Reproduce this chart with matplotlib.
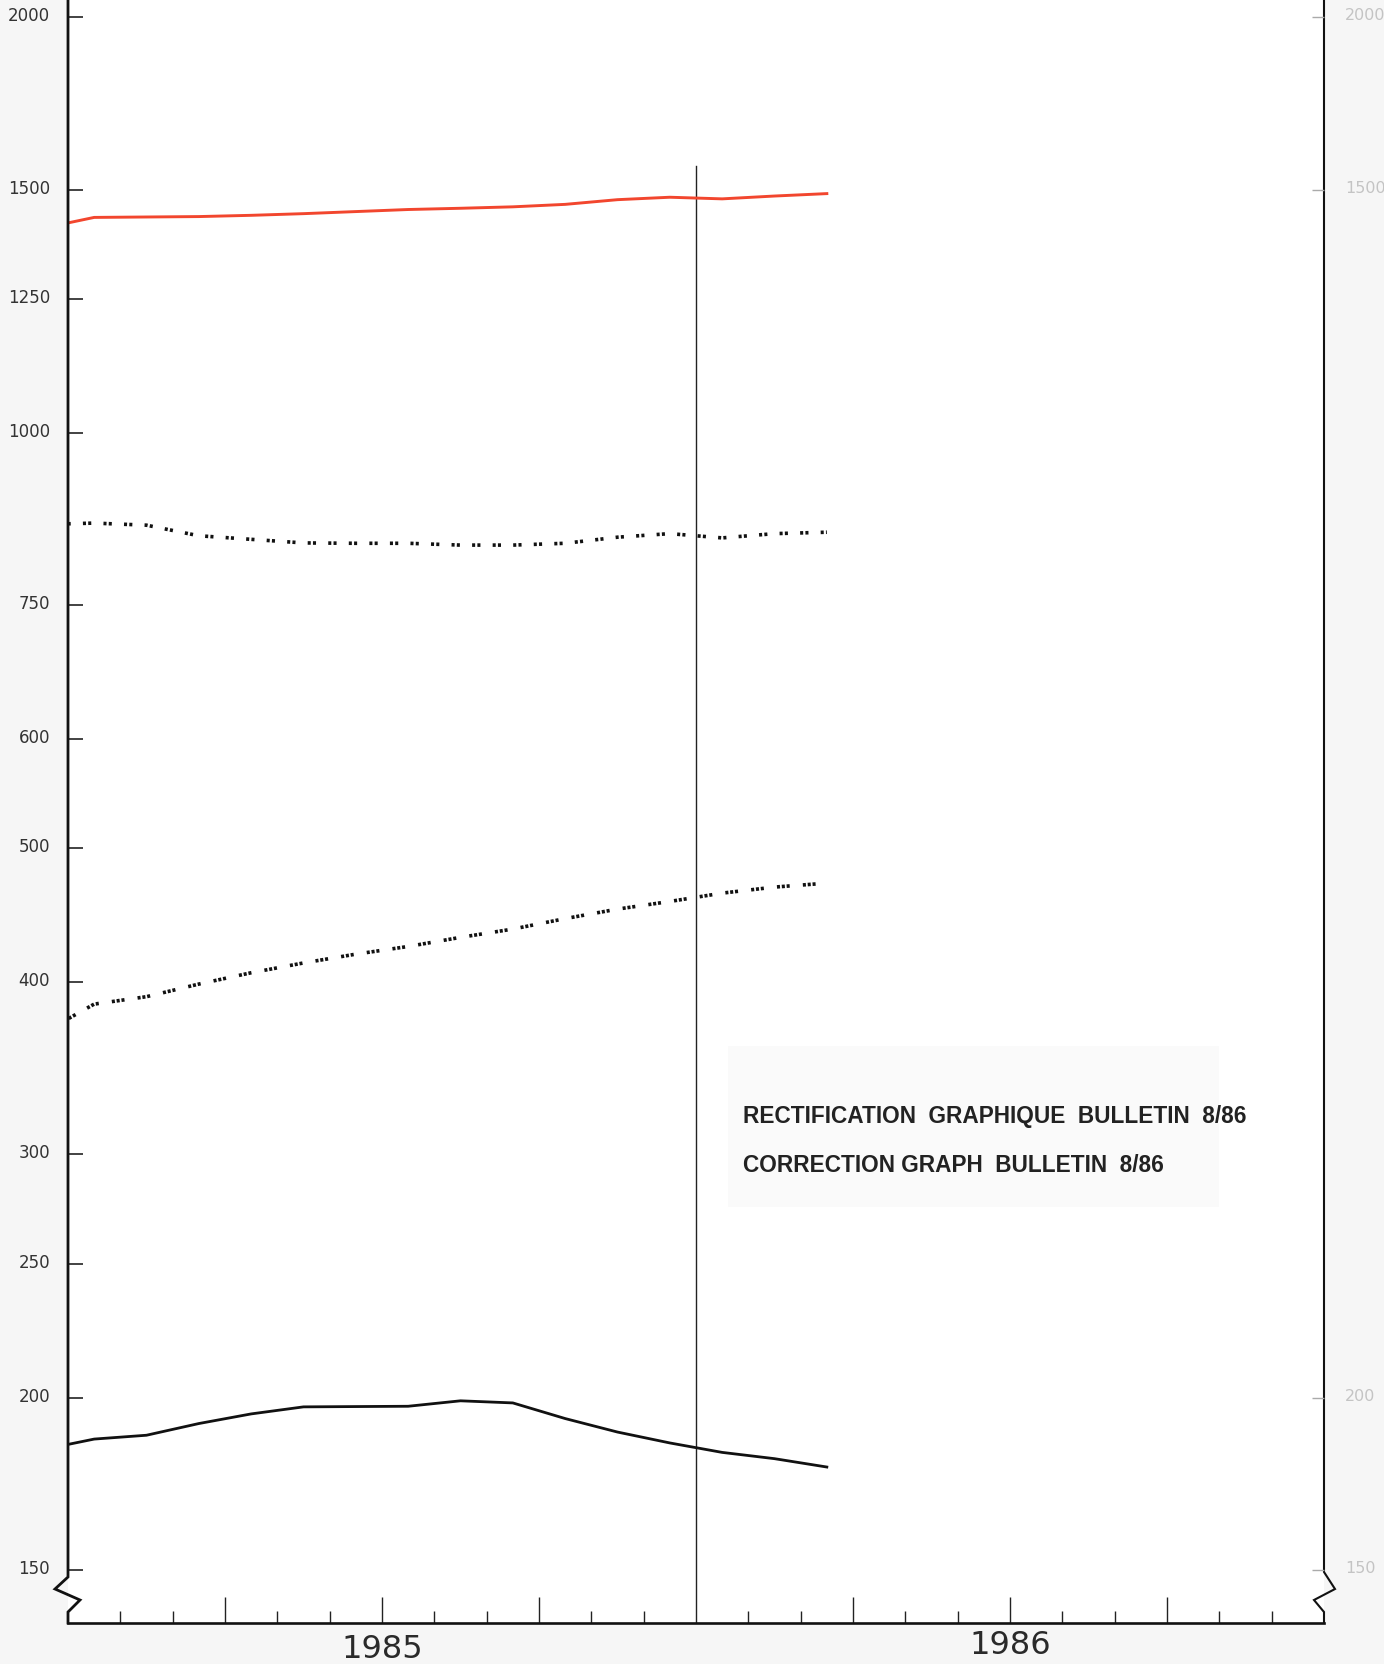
import matplotlib
matplotlib.use("Agg")
import matplotlib.pyplot as plt
import matplotlib.transforms as mtransforms
from matplotlib.patches import Rectangle
from matplotlib.ticker import FixedLocator, NullLocator, FixedFormatter

plt.rcParams['lines.scale_dashes'] = False
plt.rcParams['font.family'] = ['DejaVu Sans']

# ---- data (month index, 0 = start of Jan 1985; points at mid-month) ----
months = [-0.5, 0.5, 1.5, 2.5, 3.5, 4.5, 5.5, 6.5, 7.5, 8.5, 9.5, 10.5, 11.5, 12.5, 13.5, 14.5]
red_series = [1406, 1432, 1433, 1434, 1437, 1441, 1446, 1451, 1454, 1457.5, 1463.5, 1475, 1481, 1477, 1484, 1490]
upper_dotted = [858, 860, 857, 842, 837, 832, 831.5, 831.5, 829, 829, 831.5, 840, 845, 839, 845, 847]
lower_dotted = [367, 385.5, 390.3, 398.6, 406.2, 412.9, 419, 424.4, 430.9, 436.9, 444.6, 451.7, 457.5, 463.9, 468.6, 471.7]
black_series = [183.3, 186.6, 187.8, 191.5, 194.6, 196.9, 197.0, 197.1, 198.9, 198.2, 193.1, 188.8, 185.4, 182.5, 180.6, 178.1]

left_ticks = [150, 200, 250, 300, 400, 500, 600, 750, 1000, 1250, 1500, 2000]
right_ticks = [150, 200, 1500, 2000]
year_labels = ["1985", "1986"]
year_positions = [6, 18]
new_year = 12
note_lines = ["RECTIFICATION  GRAPHIQUE  BULLETIN  8/86",
              "CORRECTION GRAPH  BULLETIN  8/86"]

W, H = 1399, 1664
fig = plt.figure(figsize=(W / 100, H / 100), dpi=100, facecolor='#f6f6f6')
fig.patches.append(Rectangle((1384 / W, 0), 1 - 1384 / W, 1, transform=fig.transFigure,
                             facecolor='white', edgecolor='none', zorder=0))

ax_l, ax_b, ax_w, ax_h = 68 / W, 41 / H, 1256 / W, 1623 / H
ax = fig.add_axes([ax_l, ax_b, ax_w, ax_h])
ax.set_facecolor('white')
ax.set_yscale('log')
ax.set_xlim(0, 24)
ax.set_ylim(137.3, 2058)
for s in ax.spines.values():
    s.set_visible(False)

# y ticks (left)
ax.yaxis.set_major_locator(FixedLocator(left_ticks))
ax.yaxis.set_major_formatter(FixedFormatter([str(t) for t in left_ticks]))
ax.yaxis.set_minor_locator(NullLocator())
ax.tick_params(axis='y', which='major', direction='in', length=11, width=1.2,
               color='#222', labelsize=12, labelcolor='#333', pad=13)
off = mtransforms.ScaledTranslation(0, 3 / 100, fig.dpi_scale_trans)
for lab in ax.get_yticklabels():
    lab.set_transform(lab.get_transform() + off)

# x ticks (months, quarters longer)
ax.xaxis.set_major_locator(FixedLocator([3, 6, 9, 15, 18, 21]))
ax.xaxis.set_minor_locator(FixedLocator([m for m in range(1, 24) if m % 3 != 0]))
ax.tick_params(axis='x', which='major', direction='in', length=19, width=1.0,
               color='#222', labelbottom=False)
ax.tick_params(axis='x', which='minor', direction='in', length=8.5, width=1.0,
               color='#222', labelbottom=False)

# right axis (faint)
ax2 = ax.twinx()
ax2.set_yscale('log')
ax2.set_ylim(137.3, 2058)
for s in ax2.spines.values():
    s.set_visible(False)
ax2.yaxis.set_major_locator(FixedLocator(right_ticks))
ax2.yaxis.set_major_formatter(FixedFormatter([str(t) for t in right_ticks]))
ax2.yaxis.set_minor_locator(NullLocator())
ax2.tick_params(axis='y', which='major', direction='in', length=9, width=1.0,
                color='#aaaaaa', labelsize=11.5, labelcolor='#c4c4c4', pad=15)
for lab in ax2.get_yticklabels():
    lab.set_transform(lab.get_transform() + off)

# hand-drawn axis frame with break marks
def fx(px):
    return (px - 68) / 1256

def fy(py):
    return (1623 - py) / 1623

lx = [fx(68), fx(68), fx(55), fx(80), fx(68), fx(68)]
ly = [1.0, fy(1577), fy(1589), fy(1600), fy(1612), 0.0]
ax.plot(lx, ly, transform=ax.transAxes, color='#111', lw=2.0, clip_on=False,
        solid_joinstyle='miter', zorder=5)
rx = [1.0, 1.0, fx(1335), fx(1314), 1.0, 1.0]
ry = [1.0, fy(1572), fy(1589), fy(1600), fy(1612), 0.0]
ax.plot(rx, ry, transform=ax.transAxes, color='#111', lw=1.5, clip_on=False,
        solid_joinstyle='miter', zorder=5)
ax.plot([0, 1], [0, 0], transform=ax.transAxes, color='#111', lw=1.9,
        clip_on=False, zorder=5)

# vertical line at start of 1986
ax.axvline(new_year, ymin=0, ymax=0.898, color='#222', lw=1.0, zorder=3)

# series
ax.plot(months, red_series, color='#f2462e', lw=2.1, zorder=4)
ax.plot(months, upper_dotted, color='#111', lw=2.6,
        dashes=(2.2, 1.6, 2.2, 8.8), dash_capstyle='butt', zorder=4)
ax.plot(months, lower_dotted, color='#111', lw=2.6,
        dashes=(2.2, 1.3, 2.2, 1.3, 2.2, 9.5), dash_capstyle='butt', zorder=4)
ax.plot(months, black_series, color='#111', lw=2.0, zorder=4)

# note box
ax.add_patch(Rectangle((fx(728), fy(1207)), (1219 - 728) / 1256, 161 / 1623,
                       transform=ax.transAxes, facecolor='#fafafa',
                       edgecolor='none', zorder=1))
ax.text(fx(743), fy(1117), note_lines[0], transform=ax.transAxes,
        fontsize=16.3, family='Liberation Sans', weight='bold', color='#222',
        ha='left', va='center', zorder=6)
ax.text(fx(743), fy(1165), note_lines[1], transform=ax.transAxes,
        fontsize=16.3, family='Liberation Sans', weight='bold', color='#222',
        ha='left', va='center', zorder=6)

# year labels
for lbl, pos, ypx in zip(year_labels, year_positions, [1649, 1645]):
    ax.text(pos, -(ypx - 1623) / 1623, lbl, transform=ax.get_xaxis_transform(),
            fontsize=23, color='#2a2a2a', ha='center', va='center', clip_on=False)

fig.savefig('out.png', dpi=100, facecolor=fig.get_facecolor())
